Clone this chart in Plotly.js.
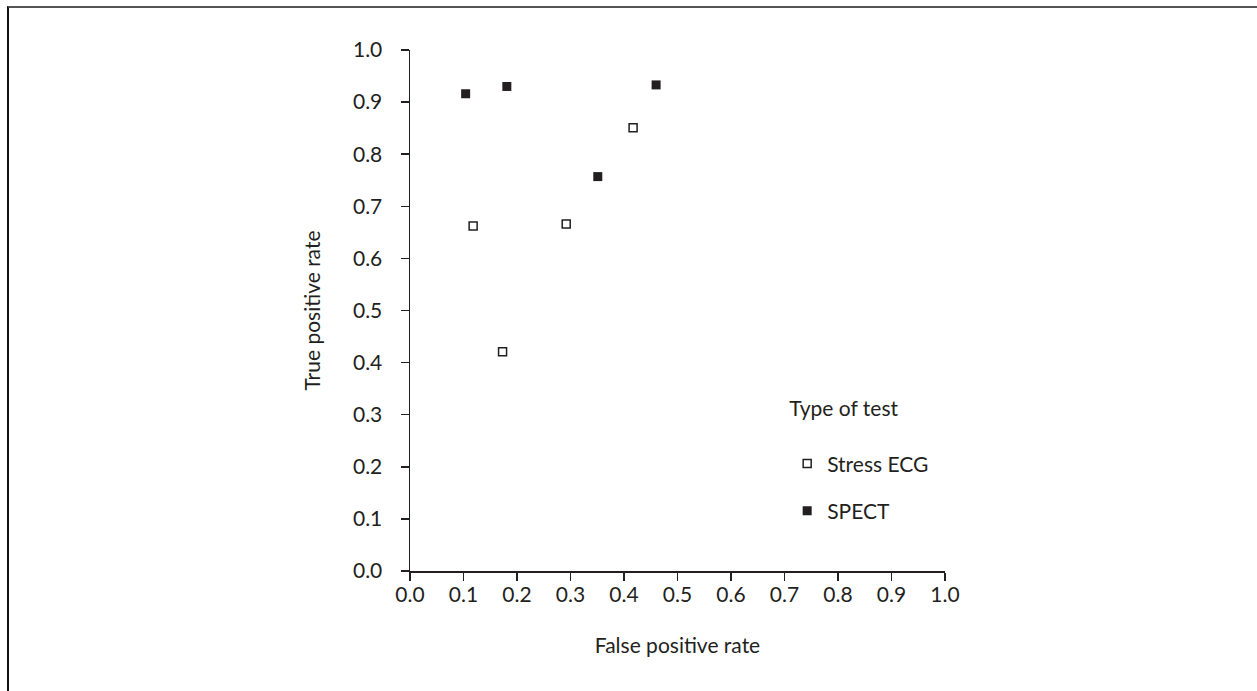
<!DOCTYPE html>
<html>
<head>
<meta charset="utf-8">
<script src="https://cdn.plot.ly/plotly-3.0.1.min.js"></script>
<style>
html,body{margin:0;padding:0;background:#fff;}
#wrap{position:relative;width:1257px;height:691px;}
#plot{position:absolute;left:0;top:0;width:1257px;height:691px;}
#frame{position:absolute;left:7px;top:6px;width:1260px;height:700px;border-top:2px solid #555;border-left:2px solid #111;pointer-events:none;}
</style>
</head>
<body>
<div id="wrap"><div id="plot"></div><div id="frame"></div></div>
<script>
const seriesNames = ["Stress ECG", "SPECT"];
const ecgFPR = [0.118, 0.173, 0.292, 0.417];
const ecgTPR = [0.662, 0.421, 0.666, 0.851];
const spectFPR = [0.104, 0.181, 0.351, 0.460];
const spectTPR = [0.916, 0.930, 0.757, 0.933];
const tickVals = [0,0.1,0.2,0.3,0.4,0.5,0.6,0.7,0.8,0.9,1.0];
const tickText = ["0.0","0.1","0.2","0.3","0.4","0.5","0.6","0.7","0.8","0.9","1.0"];

const ink = "#231f20";
const fontFam = "Lato, 'Open Sans', sans-serif";
const fs = 21;

const traces = [
  {x: ecgFPR, y: ecgTPR, name: seriesNames[0], type: "scatter", mode: "markers",
   legendgroup: "a",
   marker: {symbol: "square", size: 8, color: "#ffffff", line: {color: ink, width: 1.5}}},
  {x: spectFPR, y: spectTPR, name: seriesNames[1], type: "scatter", mode: "markers",
   legendgroup: "b",
   marker: {symbol: "square", size: 9, color: ink, line: {color: ink, width: 0}}}
];

const axisCommon = {
  range: [0, 1], tickvals: tickVals, ticktext: tickText,
  showgrid: false, zeroline: false, showline: true, linecolor: ink, linewidth: 1.5,
  ticks: "outside", ticklen: 8, tickwidth: 1.5, tickcolor: ink,
  tickfont: {size: fs, color: ink, family: fontFam}, fixedrange: true
};

const layout = {
  width: 1257, height: 691,
  margin: {l: 410, r: 312, t: 50, b: 120},
  paper_bgcolor: "#fff", plot_bgcolor: "#fff",
  font: {family: fontFam, color: ink, size: fs},
  xaxis: Object.assign({}, axisCommon, {
    title: {text: "False positive rate", font: {size: fs, color: ink, family: fontFam}, standoff: 33},
    ticklabelstandoff: -4
  }),
  yaxis: Object.assign({}, axisCommon, {
    title: {text: "True positive rate", font: {size: fs, color: ink, family: fontFam}, standoff: 26},
    ticklabelstandoff: 14
  }),
  showlegend: true,
  legend: {
    x: 0.705, y: 0.35, xanchor: "left", yanchor: "top",
    title: {text: "Type of test<br> ", font: {size: fs, color: ink, family: fontFam}},
    font: {size: fs, color: ink, family: fontFam},
    traceorder: "grouped", tracegroupgap: 17,
    bgcolor: "rgba(0,0,0,0)", itemwidth: 30
  }
};

Plotly.newPlot("plot", traces, layout, {displayModeBar: false, staticPlot: true});
</script>
</body>
</html>
